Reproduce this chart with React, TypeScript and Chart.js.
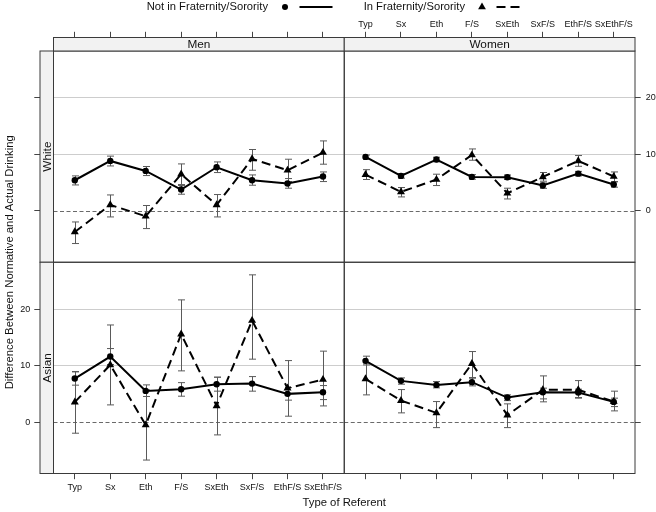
import React, { useEffect, useRef } from 'react';
import { Chart, registerables } from 'chart.js';

Chart.register(...registerables);

// ---------- data ----------
const CATEGORIES = ['Typ', 'Sx', 'Eth', 'F/S', 'SxEth', 'SxF/S', 'EthF/S', 'SxEthF/S'];
const COLUMNS = ['Men', 'Women'];
const ROWS = ['White', 'Asian'];
const SERIES = ['Not in Fraternity/Sorority', 'In Fraternity/Sorority'];
const Y_TICKS = [0, 10, 20];
const X_TITLE = 'Type of Referent';
const Y_TITLE = 'Difference Between Normative and Actual Drinking';

// Men, White
const menWhiteNot = [5.43, 8.85, 7.08, 3.78, 7.73, 5.43, 4.85, 6.09];
const menWhiteNotLo = [4.6, 7.96, 6.26, 2.96, 6.79, 4.55, 4.02, 5.2];
const menWhiteNotHi = [6.2, 9.7, 7.86, 4.67, 8.67, 6.37, 5.73, 6.9];
const menWhiteIn = [-3.72, 1.06, -0.94, 6.5, 1.06, 9.2, 7.2, 10.33];
const menWhiteInLo = [-5.77, -1.06, -3.12, 4.49, -1.06, 7.2, 5.2, 8.27];
const menWhiteInHi = [-1.95, 2.83, 0.96, 8.32, 2.9, 10.87, 9.15, 12.39];
// Women, White
const womenWhiteNot = [9.56, 6.2, 9.1, 6.02, 5.96, 4.49, 6.6, 4.67];
const womenWhiteNotLo = [9.15, 5.8, 8.7, 5.62, 5.56, 4.0, 6.2, 4.2];
const womenWhiteNotHi = [9.9, 6.6, 9.5, 6.42, 6.36, 4.95, 7.0, 5.15];
const womenWhiteIn = [6.43, 3.37, 5.56, 9.9, 3.13, 6.02, 8.85, 6.09];
const womenWhiteInLo = [5.56, 2.48, 4.49, 8.97, 2.12, 5.26, 7.9, 5.2];
const womenWhiteInHi = [7.3, 4.14, 6.5, 10.97, 4.02, 6.8, 9.8, 6.9];
// Men, Asian
const menAsianNot = [7.72, 11.61, 5.54, 5.84, 6.72, 6.83, 5.01, 5.31];
const menAsianNotLo = [6.55, 10.2, 4.55, 4.6, 5.49, 5.49, 3.9, 4.0];
const menAsianNotHi = [8.9, 13.03, 6.6, 7.0, 7.96, 8.07, 6.12, 6.48];
const menAsianIn = [3.55, 10.14, -0.5, 15.57, 2.88, 17.98, 6.02, 7.54];
const menAsianInLo = [-1.95, 3.06, -6.7, 9.08, -2.25, 11.15, 1.06, 2.88];
const menAsianInHi = [8.96, 17.2, 5.7, 21.64, 7.96, 26.07, 10.9, 12.57];
// Women, Asian
const womenAsianNot = [10.85, 7.31, 6.6, 7.08, 4.36, 5.31, 5.24, 3.59];
const womenAsianNotLo = [10.14, 6.72, 6.07, 6.42, 3.82, 4.12, 4.36, 2.76];
const womenAsianNotHi = [11.68, 7.84, 7.19, 7.9, 4.83, 6.02, 5.84, 4.25];
const womenAsianIn = [7.66, 3.82, 1.65, 10.37, 1.24, 5.72, 5.72, 3.65];
const womenAsianInLo = [4.83, 1.65, -0.96, 7.78, -0.96, 3.6, 4.25, 2.0];
const womenAsianInHi = [10.5, 5.77, 3.65, 12.5, 3.24, 8.19, 7.36, 5.49];

// ---------- layout / style ----------
const W = 656;
const H = 512;
const X_MIN = 0.4;
const X_MAX = 8.6;
const Y_MIN = -9.08;
const Y_MAX = 28.3;
const LEFT_W = 53.5;
const RIGHT_W = 21;
const TOP_H = 51;
const BOTTOM_H = 38.5;
const STRIP = 13.5;
const TICK = 5.7;
const FONT = '"Liberation Sans", Arial, Helvetica, sans-serif';

const PANELS = [
  { x: 'xMenB', y: 'yWhiteL', col: 0, row: 0, not: [menWhiteNot, menWhiteNotLo, menWhiteNotHi], inn: [menWhiteIn, menWhiteInLo, menWhiteInHi] },
  { x: 'xWomenB', y: 'yWhiteL', col: 1, row: 0, not: [womenWhiteNot, womenWhiteNotLo, womenWhiteNotHi], inn: [womenWhiteIn, womenWhiteInLo, womenWhiteInHi] },
  { x: 'xMenB', y: 'yAsianL', col: 0, row: 1, not: [menAsianNot, menAsianNotLo, menAsianNotHi], inn: [menAsianIn, menAsianInLo, menAsianInHi] },
  { x: 'xWomenB', y: 'yAsianL', col: 1, row: 1, not: [womenAsianNot, womenAsianNotLo, womenAsianNotHi], inn: [womenAsianIn, womenAsianInLo, womenAsianInHi] },
];

function zeroPad(s: any) {
  s.paddingLeft = 0;
  s.paddingRight = 0;
  s.paddingTop = 0;
  s.paddingBottom = 0;
}

function xScale(pos: 'top' | 'bottom', weight: number, showLabels: boolean) {
  return {
    type: 'linear',
    position: pos,
    stack: 'x' + pos,
    stackWeight: 1,
    weight,
    min: X_MIN,
    max: X_MAX,
    afterBuildTicks: (s: any) => {
      s.ticks = CATEGORIES.map((_, i) => ({ value: i + 1 }));
    },
    afterFit: (s: any) => {
      s.height = pos === 'top' ? TOP_H : BOTTOM_H;
      zeroPad(s);
    },
    grid: {
      display: true,
      drawOnChartArea: false,
      drawTicks: true,
      tickLength: pos === 'top' ? STRIP + TICK : TICK,
      tickColor: '#444',
      tickWidth: 1,
    },
    border: { display: false },
    ticks: {
      display: showLabels,
      autoSkip: false,
      maxRotation: 0,
      minRotation: 0,
      padding: pos === 'top' ? 2.3 : 3,
      color: '#111',
      font: { size: 9, family: FONT },
      callback: (v: any) => CATEGORIES[Math.round(v) - 1] ?? '',
    },
  };
}

function yScale(pos: 'left' | 'right', weight: number, showLabels: boolean, grid: boolean) {
  return {
    type: 'linear',
    position: pos,
    stack: 'y' + pos,
    stackWeight: 1,
    weight,
    min: Y_MIN,
    max: Y_MAX,
    afterBuildTicks: (s: any) => {
      s.ticks = Y_TICKS.map((v) => ({ value: v }));
    },
    afterFit: (s: any) => {
      s.width = pos === 'left' ? LEFT_W : RIGHT_W;
      zeroPad(s);
    },
    grid: {
      display: true,
      drawOnChartArea: grid,
      drawTicks: true,
      tickLength: pos === 'left' ? STRIP + TICK : TICK,
      color: (c: any) => (c.tick && c.tick.value === 0 ? 'rgba(0,0,0,0)' : '#cdcdcd'),
      tickColor: '#444',
      tickWidth: 1,
      lineWidth: 1,
    },
    border: { display: false },
    ticks: {
      display: showLabels,
      autoSkip: false,
      padding: pos === 'left' ? 4 : 5,
      color: '#111',
      font: { size: 9, family: FONT },
      callback: (v: any) => String(v),
    },
  };
}

const framePlugin = {
  id: 'frame',
  beforeDatasetsDraw(chart: any) {
    const ctx = chart.ctx;
    ctx.save();
    // zero reference lines
    PANELS.forEach((p) => {
      const xs = chart.scales[p.x];
      const ys = chart.scales[p.y];
      const y0 = Math.round(ys.getPixelForValue(0)) + 0.5;
      ctx.strokeStyle = '#6a6a6a';
      ctx.lineWidth = 1;
      ctx.setLineDash([4, 2.5]);
      ctx.beginPath();
      ctx.moveTo(xs.left, y0);
      ctx.lineTo(xs.right, y0);
      ctx.stroke();
    });
    ctx.setLineDash([]);
    // error bars
    chart.data.datasets.forEach((ds: any) => {
      const xs = chart.scales[ds.xAxisID];
      const ys = chart.scales[ds.yAxisID];
      ctx.strokeStyle = '#5a5a5a';
      ctx.lineWidth = 1;
      ds.errLo.forEach((lo: number, i: number) => {
        const px = Math.round(xs.getPixelForValue(i + 1)) + 0.5;
        const p1 = ys.getPixelForValue(lo);
        const p2 = ys.getPixelForValue(ds.errHi[i]);
        ctx.beginPath();
        ctx.moveTo(px, p1);
        ctx.lineTo(px, p2);
        ctx.moveTo(px - 3.5, p1);
        ctx.lineTo(px + 3.5, p1);
        ctx.moveTo(px - 3.5, p2);
        ctx.lineTo(px + 3.5, p2);
        ctx.stroke();
      });
    });
    ctx.restore();
  },
  afterDraw(chart: any) {
    const ctx = chart.ctx;
    const area = chart.chartArea;
    ctx.save();
    // panel borders
    ctx.strokeStyle = '#3a3a3a';
    ctx.lineWidth = 1;
    PANELS.forEach((p) => {
      const xs = chart.scales[p.x];
      const ys = chart.scales[p.y];
      ctx.strokeRect(xs.left, ys.top, xs.right - xs.left, ys.bottom - ys.top);
    });
    // top strips
    ctx.font = `11.8px ${FONT}`;
    ctx.textAlign = 'center';
    ctx.textBaseline = 'middle';
    ['xMenB', 'xWomenB'].forEach((id, i) => {
      const xs = chart.scales[id];
      const top = area.top - STRIP;
      ctx.fillStyle = '#f2f2f2';
      ctx.fillRect(xs.left, top, xs.right - xs.left, STRIP);
      ctx.strokeStyle = '#3a3a3a';
      ctx.strokeRect(xs.left, top, xs.right - xs.left, STRIP);
      ctx.fillStyle = '#111';
      ctx.fillText(COLUMNS[i], (xs.left + xs.right) / 2, top + STRIP / 2 + 0.5);
    });
    // left strips
    ['yWhiteL', 'yAsianL'].forEach((id, i) => {
      const ys = chart.scales[id];
      const left = area.left - STRIP;
      ctx.fillStyle = '#f2f2f2';
      ctx.fillRect(left, ys.top, STRIP, ys.bottom - ys.top);
      ctx.strokeStyle = '#3a3a3a';
      ctx.strokeRect(left, ys.top, STRIP, ys.bottom - ys.top);
      ctx.save();
      ctx.translate(left + STRIP / 2 + 0.5, (ys.top + ys.bottom) / 2);
      ctx.rotate(-Math.PI / 2);
      ctx.fillStyle = '#111';
      ctx.fillText(ROWS[i], 0, 0);
      ctx.restore();
    });
    // axis titles
    ctx.font = `11.3px ${FONT}`;
    ctx.fillStyle = '#111';
    ctx.fillText(X_TITLE, (area.left + area.right) / 2, 503);
    ctx.save();
    ctx.translate(10, (area.top + area.bottom) / 2);
    ctx.rotate(-Math.PI / 2);
    ctx.fillText(Y_TITLE, 0, 0);
    ctx.restore();
    // legend
    ctx.font = `11.2px ${FONT}`;
    ctx.textAlign = 'right';
    const legendY = 7;
    const ends = [268, 465];
    SERIES.forEach((name, i) => {
      const x = ends[i];
      ctx.fillStyle = '#111';
      ctx.fillText(name, x, legendY);
      const mx = x + 17;
      ctx.fillStyle = '#000';
      ctx.beginPath();
      if (i === 0) {
        ctx.arc(mx, legendY, 3, 0, Math.PI * 2);
      } else {
        const r = 4.5;
        ctx.moveTo(mx, legendY - r);
        ctx.lineTo(mx + r * 0.866, legendY + r / 2);
        ctx.lineTo(mx - r * 0.866, legendY + r / 2);
        ctx.closePath();
      }
      ctx.fill();
      ctx.strokeStyle = '#000';
      ctx.lineWidth = 2;
      ctx.setLineDash(i === 0 ? [] : [9, 5]);
      ctx.beginPath();
      ctx.moveTo(x + 31.5, legendY);
      ctx.lineTo(x + (i === 0 ? 64.5 : 58), legendY);
      ctx.stroke();
      ctx.setLineDash([]);
    });
    ctx.restore();
  },
};

function makeDatasets() {
  const out: any[] = [];
  PANELS.forEach((p) => {
    [p.not, p.inn].forEach((s, k) => {
      out.push({
        label: SERIES[k],
        data: s[0].map((v: number, i: number) => ({ x: i + 1, y: v })),
        errLo: s[1],
        errHi: s[2],
        xAxisID: p.x,
        yAxisID: p.y,
        borderColor: '#000',
        backgroundColor: '#000',
        borderWidth: 2,
        borderDash: k === 0 ? [] : [9, 5],
        pointStyle: k === 0 ? 'circle' : 'triangle',
        pointRadius: k === 0 ? 3.2 : 4.6,
        pointBorderWidth: 0,
        pointBackgroundColor: '#000',
        tension: 0,
        fill: false,
      });
    });
  });
  return out;
}

export default function App() {
  const ref = useRef<HTMLCanvasElement | null>(null);
  useEffect(() => {
    if (!ref.current) return;
    const chart = new Chart(ref.current, {
      type: 'line',
      data: { datasets: makeDatasets() },
      options: {
        animation: false,
        responsive: false,
        maintainAspectRatio: false,
        layout: { padding: 0 },
        plugins: { legend: { display: false }, tooltip: { enabled: false }, title: { display: false } },
        scales: {
          xMenB: xScale('bottom', 1, true),
          xWomenB: xScale('bottom', 2, false),
          xMenT: xScale('top', 2, false),
          xWomenT: xScale('top', 1, true),
          yWhiteL: yScale('left', 2, false, true),
          yAsianL: yScale('left', 1, true, true),
          yWhiteR: yScale('right', 1, true, false),
          yAsianR: yScale('right', 2, false, false),
        } as any,
      } as any,
      plugins: [framePlugin],
    });
    return () => chart.destroy();
  }, []);
  return (
    <div style={{ position: 'fixed', left: 0, top: 0, width: W, height: H, background: '#fff' }}>
      <canvas ref={ref} width={W} height={H} style={{ width: W, height: H, display: 'block' }} />
    </div>
  );
}
